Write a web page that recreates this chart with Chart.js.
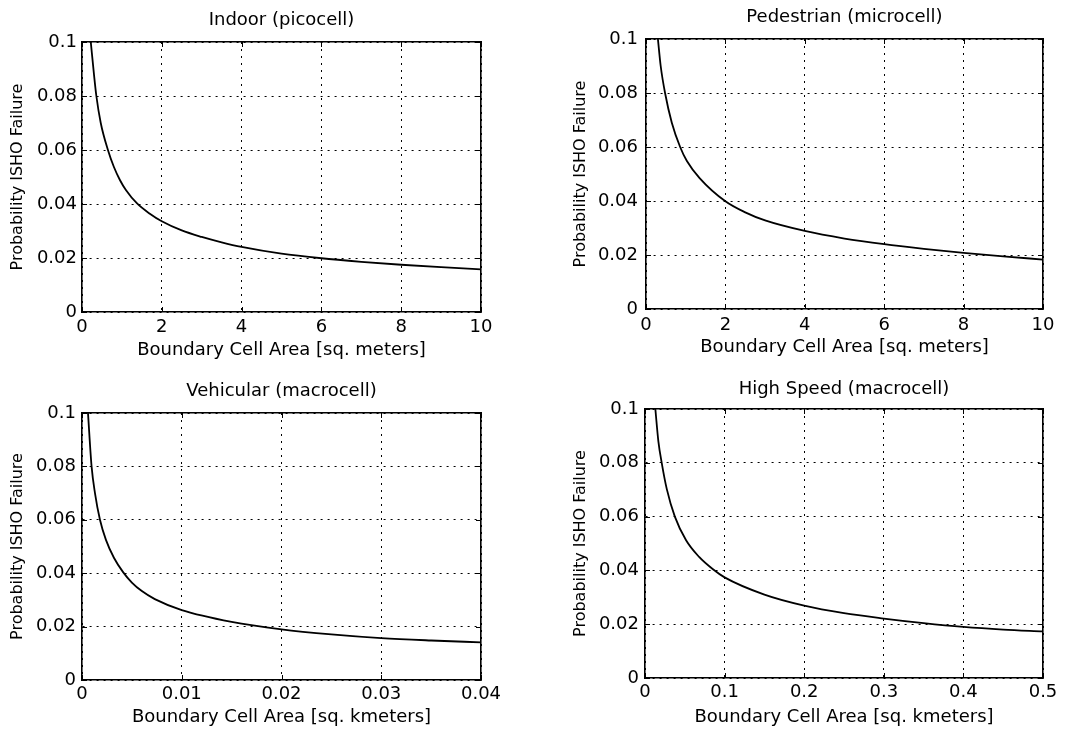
<!DOCTYPE html>
<html>
<head>
<meta charset="utf-8">
<script src="https://cdn.jsdelivr.net/npm/chart.js@4.4.1/dist/chart.umd.min.js"></script>
<style>
  html, body { margin: 0; padding: 0; background: #fff; }
  body { width: 1079px; height: 730px; position: relative; overflow: hidden; }
  .cell { position: absolute; }
</style>
</head>
<body>
<div class="cell" style="left:0;top:0;width:540px;height:365px"><canvas id="c1"></canvas></div>
<div class="cell" style="left:540px;top:0;width:539px;height:365px"><canvas id="c2"></canvas></div>
<div class="cell" style="left:0;top:365px;width:540px;height:365px"><canvas id="c3"></canvas></div>
<div class="cell" style="left:540px;top:365px;width:539px;height:365px"><canvas id="c4"></canvas></div>
<script>
/* ─── ISHO failure probability vs boundary cell area ───────────── */

// y axis is the same on every panel
const yTicks  = [0, 0.02, 0.04, 0.06, 0.08, 0.1];
const yLabels = ['0', '0.02', '0.04', '0.06', '0.08', '0.1'];
const yTitle  = 'Probability ISHO Failure';

// Indoor (picocell) — sq. meters
const indoorX = [0.22, 0.3, 0.36, 0.47, 0.65, 0.8, 0.95, 1.1, 1.38, 1.7, 2, 2.5, 3, 3.5, 4, 5, 6, 7, 8, 9, 10];
const indoorY = [0.1, 0.088, 0.08, 0.07, 0.06, 0.0537, 0.0489, 0.0452, 0.0402, 0.0364, 0.0336, 0.0302, 0.0278, 0.0258, 0.0241, 0.0216, 0.0199, 0.0186, 0.0175, 0.0166, 0.0158];

// Pedestrian (microcell) — sq. meters
const pedX = [0.3, 0.37, 0.48, 0.65, 0.86, 1.03, 1.35, 2, 2.5, 3, 4, 5, 6, 7, 8, 9, 10];
const pedY = [0.1, 0.09, 0.08, 0.069, 0.06, 0.0548, 0.0485, 0.0399, 0.0358, 0.0328, 0.0289, 0.0261, 0.0240, 0.0223, 0.0208, 0.0195, 0.0183];

// Vehicular (macrocell) — sq. kmeters
const vehX = [0.0006, 0.00096, 0.0013, 0.0018, 0.0024, 0.0032, 0.0041, 0.005, 0.006, 0.0073, 0.01, 0.015, 0.02, 0.025, 0.03, 0.035, 0.04];
const vehY = [0.1, 0.08, 0.07, 0.06, 0.0525, 0.0458, 0.0405, 0.0365, 0.0333, 0.0303, 0.0262, 0.0218, 0.019, 0.0171, 0.0157, 0.0148, 0.0141];

// High Speed (macrocell) — sq. kmeters
const hsX = [0.013, 0.0168, 0.021, 0.0274, 0.0375, 0.0516, 0.068, 0.085, 0.1, 0.15, 0.2, 0.25, 0.3, 0.35, 0.4, 0.45, 0.5];
const hsY = [0.1, 0.088, 0.08, 0.0702, 0.06, 0.0512, 0.045, 0.0405, 0.0374, 0.031, 0.0269, 0.0241, 0.0221, 0.0204, 0.019, 0.018, 0.0173];

const mTicks   = [0, 2, 4, 6, 8, 10];
const mLabels  = ['0', '2', '4', '6', '8', '10'];
const vTicks   = [0, 0.01, 0.02, 0.03, 0.04];
const vLabels  = ['0', '0.01', '0.02', '0.03', '0.04'];
const hTicks   = [0, 0.1, 0.2, 0.3, 0.4, 0.5];
const hLabels  = ['0', '0.1', '0.2', '0.3', '0.4', '0.5'];

const FONT = "'DejaVu Sans', sans-serif";

// inward tick marks on all four sides, like the original plot
const frameTicks = {
  id: 'frameTicks',
  afterDraw(chart) {
    const { ctx, chartArea: a } = chart;
    const x = chart.scales.x, y = chart.scales.y;
    ctx.save();
    ctx.strokeStyle = '#000';
    ctx.lineWidth = 1;
    ctx.beginPath();
    x.ticks.forEach(t => {
      const px = Math.round(x.getPixelForValue(t.value)) + 0.5;
      ctx.moveTo(px, a.bottom); ctx.lineTo(px, a.bottom - 5);
      ctx.moveTo(px, a.top);    ctx.lineTo(px, a.top + 5);
    });
    y.ticks.forEach(t => {
      const py = Math.round(y.getPixelForValue(t.value)) + 0.5;
      ctx.moveTo(a.left, py);  ctx.lineTo(a.left + 5, py);
      ctx.moveTo(a.right, py); ctx.lineTo(a.right - 5, py);
    });
    ctx.stroke();
    ctx.restore();
  }
};

function panel(id, p) {
  const ctx = document.getElementById(id).getContext('2d');
  const grid = { color: '#000', lineWidth: 1, drawTicks: false };
  const border = { color: '#000', width: 1.6, dash: [2, 5] };
  const solid  = { color: '#000', width: 1.6 };

  return new Chart(ctx, {
    type: 'line',
    data: {
      datasets: [{
        data: p.xs.map((v, i) => ({ x: v, y: p.ys[i] })),
        borderColor: '#000',
        borderWidth: 1.8,
        pointRadius: 0,
        fill: false,
        cubicInterpolationMode: 'monotone',
        xAxisID: 'x',
        yAxisID: 'y'
      }]
    },
    options: {
      responsive: true,
      maintainAspectRatio: false,
      animation: false,
      events: [],
      layout: { padding: 0 },
      plugins: { legend: { display: false }, tooltip: { enabled: false } },
      scales: {
        x: {
          type: 'linear', position: 'bottom', min: 0, max: p.xMax,
          grid, border,
          afterBuildTicks: s => { s.ticks = p.xTicks.map(v => ({ value: v })); },
          afterFit: s => { s.height = p.H - p.B; },
          ticks: {
            color: '#000', padding: p.xPad, maxRotation: 0, autoSkip: false,
            font: { family: FONT, size: 18 },
            callback: (v, i) => p.xLabels[i]
          },
          title: {
            display: true, text: p.xTitle, color: '#000',
            font: { family: FONT, size: 18 },
            padding: { top: 0, bottom: p.xTitlePad }
          }
        },
        y: {
          type: 'linear', position: 'left', min: 0, max: 0.1,
          grid, border,
          afterBuildTicks: s => { s.ticks = yTicks.map(v => ({ value: v })); },
          afterFit: s => { s.width = p.L; },
          ticks: {
            color: '#000', padding: p.yPad, autoSkip: false,
            font: { family: FONT, size: 18 },
            callback: (v, i) => yLabels[i]
          },
          title: {
            display: true, text: yTitle, color: '#000',
            font: { family: FONT, size: 16 },
            padding: { top: p.yTitlePad, bottom: 0 }
          }
        },
        x2: {
          type: 'linear', position: 'top', min: 0, max: p.xMax,
          grid: { display: false, drawTicks: false }, border: solid,
          ticks: { display: false },
          afterFit: s => { s.height = p.T; },
          title: {
            display: true, text: p.title, color: '#000',
            font: { family: FONT, size: 18 },
            padding: { top: p.titlePad, bottom: 0 }
          }
        },
        y2: {
          type: 'linear', position: 'right', min: 0, max: 0.1,
          grid: { display: false, drawTicks: false }, border: solid,
          ticks: { display: false },
          afterFit: s => { s.width = p.W - p.R; }
        }
      }
    },
    plugins: [frameTicks]
  });
}

panel('c1', {
  title: 'Indoor (picocell)', xTitle: 'Boundary Cell Area [sq. meters]',
  xs: indoorX, ys: indoorY, xMax: 10, xTicks: mTicks, xLabels: mLabels,
  W: 540, H: 365, L: 82, R: 481, T: 42, B: 312,
  titlePad: 10, xTitlePad: 4, yTitlePad: 8, yPad: 5, xPad: 5
});

panel('c2', {
  title: 'Pedestrian (microcell)', xTitle: 'Boundary Cell Area [sq. meters]',
  xs: pedX, ys: pedY, xMax: 10, xTicks: mTicks, xLabels: mLabels,
  W: 539, H: 365, L: 106, R: 503, T: 39, B: 309,
  titlePad: 7, xTitlePad: 7, yTitlePad: 31, yPad: 8, xPad: 6
});

panel('c3', {
  title: 'Vehicular (macrocell)', xTitle: 'Boundary Cell Area [sq. kmeters]',
  xs: vehX, ys: vehY, xMax: 0.04, xTicks: vTicks, xLabels: vLabels,
  W: 540, H: 365, L: 82, R: 481, T: 48, B: 315,
  titlePad: 16, xTitlePad: 2, yTitlePad: 8, yPad: 6, xPad: 4
});

panel('c4', {
  title: 'High Speed (macrocell)', xTitle: 'Boundary Cell Area [sq. kmeters]',
  xs: hsX, ys: hsY, xMax: 0.5, xTicks: hTicks, xLabels: hLabels,
  W: 539, H: 365, L: 105, R: 503, T: 44, B: 313,
  titlePad: 14, xTitlePad: 2, yTitlePad: 31, yPad: 6, xPad: 4
});
</script>
</body>
</html>
